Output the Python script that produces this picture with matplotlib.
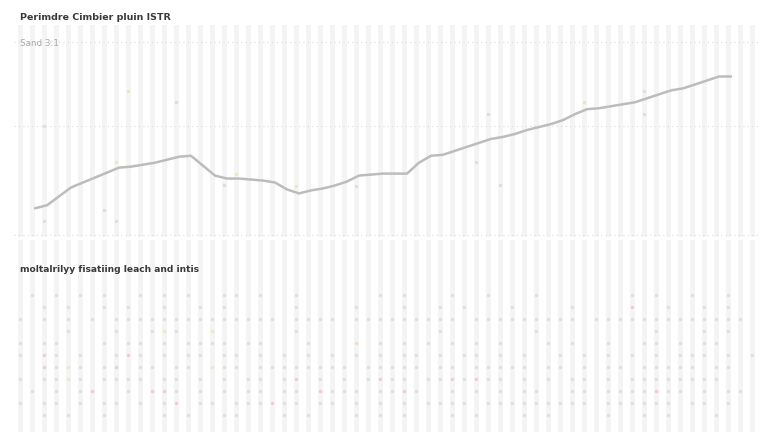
import numpy as np
import matplotlib.pyplot as plt

# top panel: one series (one value per column step)
line_vals = [27, 30, 39, 48, 53, 58, 63, 68, 69, 71,
             73, 76, 79, 80, 70, 60, 57, 57, 56, 55,
             53, 46, 42, 45, 47, 50, 54, 60, 61, 62,
             62, 62, 73, 80, 81, 85, 89, 93, 97, 99,
             102, 106, 109, 112, 116, 122, 127, 128, 130, 132,
             134, 138, 142, 146, 148, 152, 156, 160, 160]

# faint scattered points in the top panel: (column, value, kind)
top_points = [(9, 145, 'y'), (13, 134, 'g'), (2, 110, 'g'), (7, 25, 'g'),
              (18, 62, 'y'), (28, 49, 'g'), (17, 50, 'g'), (8, 14, 'g'),
              (2, 14, 'g'), (39, 122, 'g'), (38, 74, 'g'), (40, 50, 'g'),
              (47, 134, 'y'), (52, 122, 'g'), (52, 145, 'g'), (8, 74, 'y'),
              (23, 49, 'y')]

# bottom panel: dot matrix, '.' empty, g grey, r red, y yellow, o orange
dot_rows = [
    ".g.g.g.g.. g.g.g..gg.g ..g......g .g...g..g. ..g....... g.g..g..g. ..",
    "..g.g..g.g ..g..g.g... ..g....g.. .g..g.g... g....g.... r..g..g.g. ..",
    "g.g.g.g.gg gggggggggg gg.gggg.gg ggggggg.gg ggggggg.gg gggggggggg g.",
    "....g...g. .gyg..y... ...g...... .....g.... ...g...... ...g...g.g ..",
    "g.gg...g.g g.g.gggg.g g...g...o. g.g.g.g.g. g...g.g..g ..gg.g.gg. ..",
    "g.rg.g..gr g.g.gg.gg. g.g.g.g.g. g.gg.g.gg. g.g..g.g.g .g.g.ggg.g .g",
    "..rgyg.gr. gg.gg.ygg. gggggggg.g gggg.gg.gg ggg.gg.g.g g.ggggg.gg ..",
    "g.ggyg.ggg g.gg.g.g.g g.gr.g.g.g rgg.ggrgrg g.g.g.gg.g .gggggggg. ..",
    ".g.g.gr..g .rrg.g.g.g g.gg.rggg. ggrg..g.g. g.gg..gg.g gggrgg.g.g g.",
    "g.gg.g.gg. g.gr.gg.gg grgg.gg.g. g.g.gggg.g gggggggg.g ggggg.gg.g ..",
    "..g.g..g.. ..g.g..gg. ..g.g...g. g.g...g.g. ..g.g....g ..g.g...g. ..",
]

line_color = "#bcbcbc"
stripe_color = "#f4f4f4"
dot_colors = {"g": "#d4d4d4", "r": "#efb4b4", "y": "#ede0a4", "o": "#f2caa8"}

fig = plt.figure(figsize=(7.68, 4.32), dpi=100)
fig.patch.set_facecolor("white")

W, H = 768.0, 432.0
ncols = 62
x_left, x_right = 14, 758


def stripes(ax):
    for k in range(ncols):
        ax.axvline(k, color=stripe_color, lw=3.6, zorder=0)
    ax.set_xlim(-0.5, ncols - 0.5)
    ax.set_xticks([])
    ax.set_yticks([])
    for s in ax.spines.values():
        s.set_visible(False)
    ax.set_facecolor("none")


# top panel
ax1 = fig.add_axes([x_left / W, (H - 237) / H, (x_right - x_left) / W, 212 / H])
stripes(ax1)
ax1.set_ylim(-2, 212)
for gy in [0, 110, 195]:
    ax1.axhline(gy, color="#dcdcdc", lw=0.8, ls=(0, (1, 3)), zorder=1)
for cx, cy, kind in top_points:
    ax1.plot(cx, cy, "o", ms=2.4, color=dot_colors[kind], alpha=0.7, zorder=2, mec="none")
x_line = np.arange(len(line_vals)) + 1.25
ax1.plot(x_line, line_vals, color=line_color, lw=1.8, zorder=3, solid_capstyle="round")

# bottom panel
ax2 = fig.add_axes([x_left / W, 0, (x_right - x_left) / W, 192 / H])
stripes(ax2)
ax2.set_ylim(11.42, -4.58)
for r, row in enumerate(dot_rows):
    cells = row.replace(" ", "")
    for k, ch in enumerate(cells):
        if ch == ".":
            continue
        ax2.plot(k, r, "o", ms=2.5, color=dot_colors[ch], alpha=0.6, mec="none", zorder=2)

fig.text(20 / W, 1 - 18 / H, "Perimdre Cimbier pluin ISTR", fontsize=6.8,
         fontweight="bold", color="#3a3a3a", va="center", ha="left",
         bbox=dict(facecolor="white", edgecolor="none", pad=2))
fig.text(20 / W, 1 - 44 / H, "Sand 3:1", fontsize=6.3, color="#a8a8a8",
         va="center", ha="left")
fig.text(20 / W, 1 - 270 / H, "moltalrilyy fisatiing leach and intis", fontsize=6.6,
         fontweight="bold", color="#3a3a3a", va="center", ha="left")

fig.savefig("out.png", dpi=100, facecolor="white")
